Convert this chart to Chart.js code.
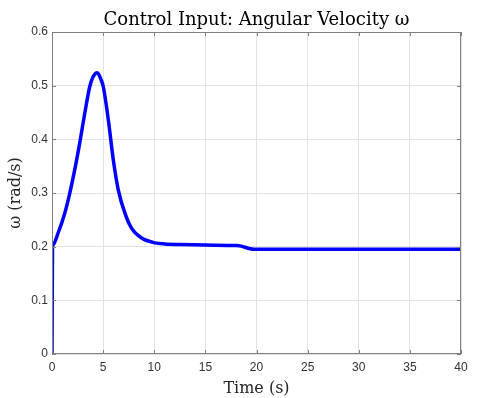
<!DOCTYPE html>
<html>
<head>
<meta charset="utf-8">
<script src="https://cdn.jsdelivr.net/npm/chart.js@4.4.0/dist/chart.umd.min.js"></script>
<style>
  html, body { margin: 0; padding: 0; background: #fff; }
  #wrap { width: 480px; height: 398px; }
</style>
</head>
<body>
<div id="wrap"><canvas id="omegaChart"></canvas></div>
<script>
// time samples (s) and angular velocity (rad/s)
const timeVals = [0, 0.05, 0.1, 0.59, 1.24, 1.73, 2.22, 2.71, 3.2, 3.69, 4.01, 4.43, 4.82, 5.02, 5.51, 6.0, 6.48, 7.14, 7.79, 8.77, 10.07, 11.05, 12.5, 15, 18, 18.5, 19.2, 19.8, 25, 30, 35, 40];
const omegaVals = [0, 0.198, 0.203, 0.225, 0.262, 0.299, 0.343, 0.393, 0.448, 0.498, 0.516, 0.524, 0.51, 0.498, 0.436, 0.361, 0.306, 0.262, 0.234, 0.216, 0.207, 0.205, 0.204, 0.203, 0.202, 0.201, 0.197, 0.195, 0.195, 0.195, 0.195, 0.195];
const xTicks = [0, 5, 10, 15, 20, 25, 30, 35, 40];
const yTicks = [0, 0.1, 0.2, 0.3, 0.4, 0.5, 0.6];
const titleText = 'Control Input: Angular Velocity ω';

const points = timeVals.map((t, i) => ({ x: t, y: omegaVals[i] }));

const axisColor = '#808080';
const serif = "'DejaVu Serif', 'Liberation Serif', serif";
const sans = "'Liberation Sans', Arial, sans-serif";

// MATLAB style box with inward ticks, title centred over the axes
const boxPlugin = {
    id: 'boxPlugin',
    afterDatasetsDraw(chart) {
        const { ctx, chartArea: a, scales } = chart;
        ctx.save();
        ctx.strokeStyle = axisColor;
        ctx.lineWidth = 1;
        ctx.strokeRect(a.left + 0.5, a.top + 0.5, a.right - a.left - 1, a.bottom - a.top - 1);
        ctx.beginPath();
        xTicks.forEach(v => {
            const px = Math.round(scales.x.getPixelForValue(v)) + 0.5;
            ctx.moveTo(px, a.bottom); ctx.lineTo(px, a.bottom - 4);
            ctx.moveTo(px, a.top); ctx.lineTo(px, a.top + 4);
        });
        yTicks.forEach(v => {
            const py = Math.round(scales.y.getPixelForValue(v)) + 0.5;
            ctx.moveTo(a.left, py); ctx.lineTo(a.left + 4, py);
            ctx.moveTo(a.right, py); ctx.lineTo(a.right - 4, py);
        });
        ctx.stroke();

        ctx.fillStyle = '#000';
        ctx.font = "18px " + serif;
        ctx.textAlign = 'center';
        ctx.textBaseline = 'alphabetic';
        ctx.fillText(titleText, (a.left + a.right) / 2, 25);
        ctx.restore();
    }
};

const ctx = document.getElementById('omegaChart').getContext('2d');
const omegaChart = new Chart(ctx, {
    type: 'line',
    data: {
        datasets: [{
            data: points,
            borderColor: '#0000ff',
            borderWidth: 3.5,
            pointRadius: 0,
            fill: false,
            cubicInterpolationMode: 'monotone',
        }],
    },
    options: {
        responsive: true,
        maintainAspectRatio: false,
        animation: false,
        layout: { padding: { left: 0, right: 19, top: 32, bottom: 0 } },
        plugins: {
            legend: { display: false },
            tooltip: { enabled: false },
        },
        scales: {
            x: {
                type: 'linear',
                min: 0,
                max: 40,
                afterBuildTicks: s => { s.ticks = xTicks.map(v => ({ value: v })); },
                afterFit: s => { s.height = 44; },
                grid: { color: '#e3e3e3', drawTicks: false },
                border: { display: false },
                ticks: { color: '#333', font: { family: sans, size: 12 }, padding: 6, maxRotation: 0 },
                title: {
                    display: true,
                    text: 'Time (s)',
                    color: '#262626',
                    font: { family: serif, size: 16 },
                    padding: { top: 0, bottom: 0 },
                },
            },
            y: {
                min: 0,
                max: 0.6,
                afterBuildTicks: s => { s.ticks = yTicks.map(v => ({ value: v })); },
                afterFit: s => { s.width = 52; },
                grid: { color: '#e3e3e3', drawTicks: false },
                border: { display: false },
                ticks: {
                    color: '#333',
                    font: { family: sans, size: 12 },
                    padding: 4,
                    callback: v => (v === 0 ? '0' : v.toFixed(1)),
                },
                title: {
                    display: true,
                    text: 'ω (rad/s)',
                    color: '#262626',
                    font: { family: serif, size: 16 },
                    padding: { top: 6, bottom: 0 },
                },
            },
        },
    },
    plugins: [boxPlugin],
});
</script>
</body>
</html>
